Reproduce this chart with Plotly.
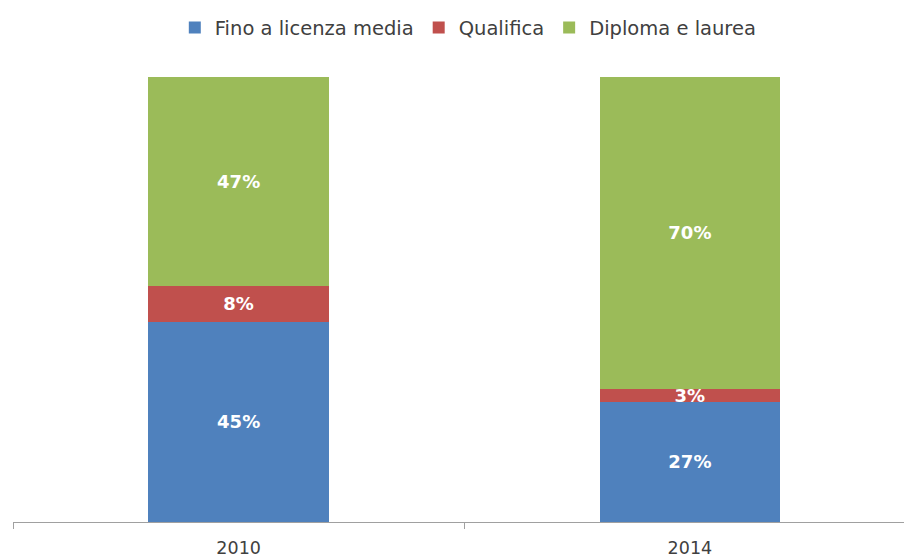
import plotly.graph_objects as go

years = ["2010", "2014"]
series_names = ["Fino a licenza media", "Qualifica", "Diploma e laurea"]
fino = [45, 27]
qualifica = [8, 3]
diploma = [47, 70]
colors = ["#4F81BD", "#C0504D", "#9BBB59"]

FONT = "DejaVu Sans"

fig = go.Figure()
for name, vals, col in zip(series_names, [fino, qualifica, diploma], colors):
    fig.add_trace(go.Bar(
        x=years, y=vals, name=name, marker=dict(color=col, line=dict(width=0)),
        text=[f"{v}%" for v in vals], textposition="inside", insidetextanchor="middle",
        textangle=0, constraintext="none",
        textfont=dict(color="white", size=18, family=FONT, weight="bold"),
        width=0.4,
    ))

fig.update_layout(
    barmode="stack",
    width=904, height=558,
    margin=dict(l=13, r=0, t=77, b=36),
    plot_bgcolor="white", paper_bgcolor="white",
    font=dict(family=FONT, size=17, color="#404040"),
    legend=dict(orientation="h", x=0.511, xanchor="center", y=0.985, yanchor="top",
                yref="container", font=dict(size=19.5, color="#404040"),
                traceorder="normal"),
    showlegend=True,
)
fig.update_xaxes(type="category", range=[-0.5, 1.4745], showline=True, linecolor="#a0a0a0",
                 linewidth=1, ticks="outside", tickson="boundaries", ticklen=6,
                 tickcolor="#a0a0a0", showgrid=False, automargin=False,
                 ticklabelstandoff=10,
                 tickfont=dict(size=17.5, color="#404040"))
fig.update_yaxes(range=[0, 100], visible=False, showgrid=False)

fig.write_html("out.html", config={"displayModeBar": False},
               post_script="document.body.style.margin='0';")
